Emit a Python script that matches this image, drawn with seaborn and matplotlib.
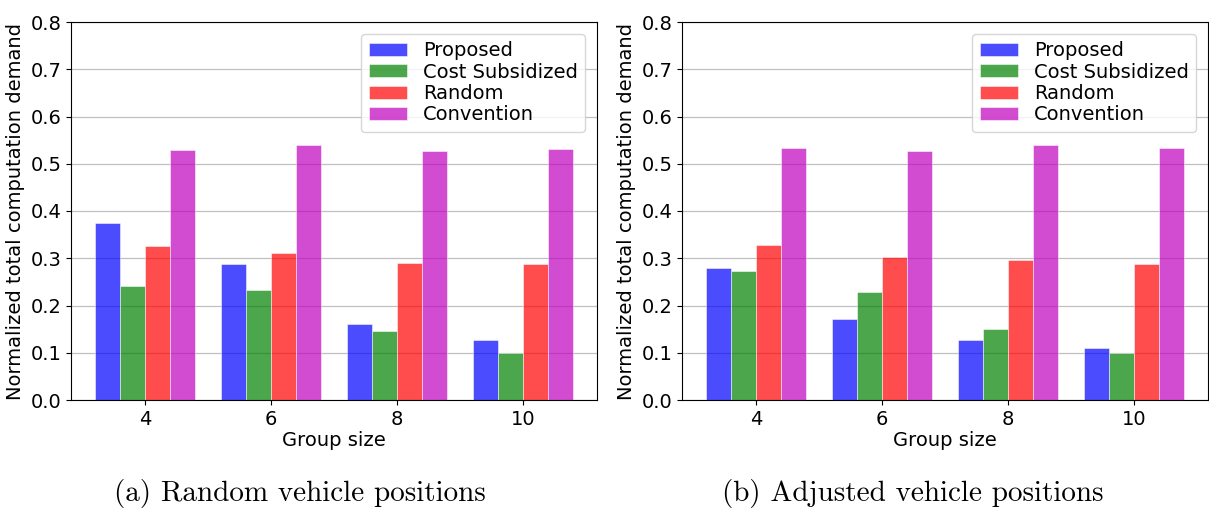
import pandas as pd
import matplotlib
matplotlib.use('Agg')
import matplotlib.pyplot as plt
import seaborn as sns

# values
group_sizes = ['4', '6', '8', '10']
methods = ['Proposed', 'Cost Subsidized', 'Random', 'Convention']

# (a) random vehicle positions
rand_proposed = [0.375, 0.287, 0.160, 0.127]
rand_cost = [0.242, 0.233, 0.147, 0.100]
rand_random = [0.326, 0.311, 0.290, 0.288]
rand_convention = [0.529, 0.539, 0.526, 0.532]

# (b) adjusted vehicle positions
adj_proposed = [0.280, 0.171, 0.128, 0.110]
adj_cost = [0.272, 0.228, 0.151, 0.099]
adj_random = [0.327, 0.302, 0.296, 0.288]
adj_convention = [0.534, 0.527, 0.540, 0.534]

colors = ['blue', 'green', 'red', 'm']
captions = ['(a) Random vehicle positions', '(b) Adjusted vehicle positions']


def to_long(series_list):
    rows = []
    for method, vals in zip(methods, series_list):
        for g, v in zip(group_sizes, vals):
            rows.append({'Group size': g, 'Method': method, 'value': v})
    return pd.DataFrame(rows)


data_a = to_long([rand_proposed, rand_cost, rand_random, rand_convention])
data_b = to_long([adj_proposed, adj_cost, adj_random, adj_convention])

fig = plt.figure(figsize=(12.09, 5.12), dpi=100)
ax1 = fig.add_axes([71 / 1209, 112 / 512, 526 / 1209, 378 / 512])
ax2 = fig.add_axes([682 / 1209, 112 / 512, 526 / 1209, 378 / 512])

for ax, df in zip([ax1, ax2], [data_a, data_b]):
    ax.set_axisbelow(True)
    ax.yaxis.grid(True, color='#c0c0c0', linewidth=0.9)
    sns.barplot(data=df, x='Group size', y='value', hue='Method', order=group_sizes,
                hue_order=methods, palette=colors, saturation=1, alpha=0.7, width=0.8,
                edgecolor='white', linewidth=0.5, ax=ax)
    ax.set_xlim(-0.587, 3.587)
    ax.set_ylim(0, 0.8)
    ax.set_yticks([0.0, 0.1, 0.2, 0.3, 0.4, 0.5, 0.6, 0.7, 0.8])
    ax.tick_params(labelsize=14)
    ax.set_xlabel('Group size', fontsize=14, labelpad=2)
    ax.set_ylabel('Normalized total computation demand', fontsize=14, labelpad=4)
    ax.legend(loc='upper right', fontsize=14, title=None, borderaxespad=0.6,
              handlelength=1.95, handleheight=0.65, handletextpad=0.8, labelspacing=0.12)

fig.text(300 / 1209, 1 - 493 / 512, captions[0], family='cmr10', fontsize=21,
         ha='center', va='center')
fig.text(913 / 1209, 1 - 493 / 512, captions[1], family='cmr10', fontsize=21,
         ha='center', va='center')

fig.savefig('out.png', dpi=100)
